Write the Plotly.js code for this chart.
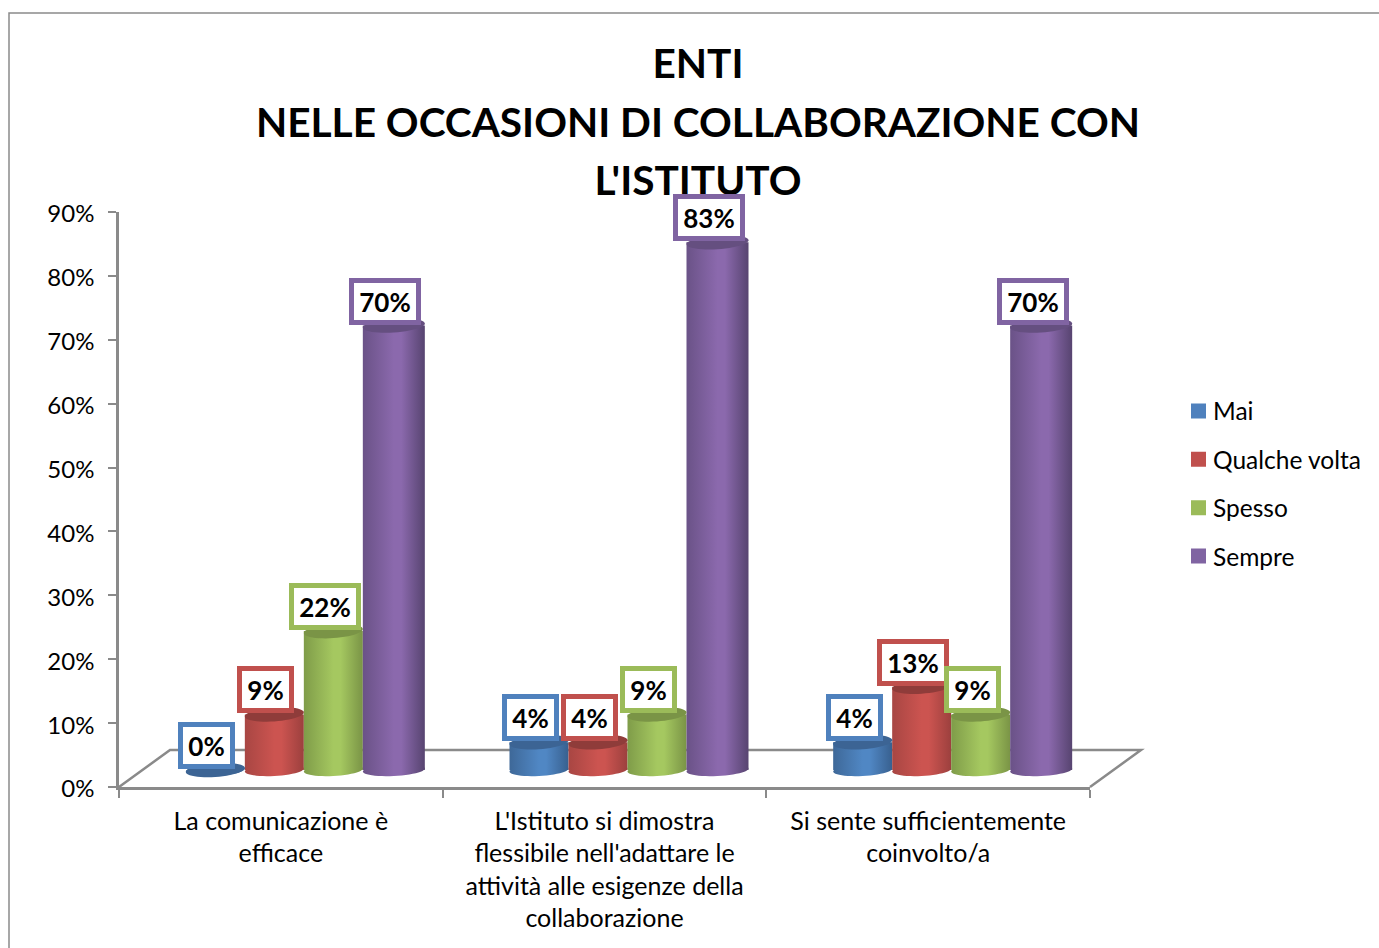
<!DOCTYPE html>
<html><head><meta charset="utf-8">
<script src="https://cdn.plot.ly/plotly-3.0.1.min.js"></script>
<style>html,body{margin:0;padding:0;background:#fff;overflow:hidden}#chart{width:1379px;height:948px}#chart text{font-variant-ligatures:none}</style>
</head><body><div id="chart"></div>
<script>
const categories = ["La comunicazione è<br>efficace","L'Istituto si dimostra<br>flessibile nell'adattare le<br>attività alle esigenze della<br>collaborazione","Si sente sufficientemente<br>coinvolto/a"];
const mai = [0,4.35,4.35];
const qualcheVolta = [8.7,4.35,13.04];
const spesso = [21.74,8.7,8.7];
const sempre = [69.57,82.61,69.57];
const seriesNames = ["Mai","Qualche volta","Spesso","Sempre"];
const seriesColors = ["#4f81bd","#c0504d","#9bbb59","#8064a2"];
const capColors = ["#3c6494","#8f3c3a","#7a9446","#654f80"];
const gradientStops = [["#3e6898","#5087c4","#38608f"],["#a84643","#cc5450","#9c403e"],["#7f9c49","#a5c860","#7a9446"],["#6a5287","#8b69ad","#574470"]];
const titleText = "ENTI<br>NELLE OCCASIONI DI COLLABORAZIONE CON<br>L'ISTITUTO";
const FONT = "Lato, sans-serif";

const L=119,R=1090,T=212,B=787,W=1379,H=948;
const catW=(R-L)/3, pctPx=(B-T)/90, liftPx=17, shiftPx=24.5;
const barLeft=[-119.5,-60.5,-1.5,57.5], barPx=[59,59,59,62];
const all=[mai,qualcheVolta,spesso,sempre];
const px=x=>(x-L)/(R-L), py=y=>(B-y)/(B-T);

const traces=all.map((v,i)=>({type:"bar",name:seriesNames[i],x:[0,1,2],y:v,xaxis:"x2",yaxis:"y2",
  legendgroup:seriesNames[i],width:barPx[i]/catW,offset:barLeft[i]/catW,
  marker:{color:seriesColors[i],line:{width:0}},hoverinfo:"skip"}));
// invisible carrier so the category axis draws its labels
traces.unshift({type:"scatter",mode:"none",x:categories,y:[0,0,0],xaxis:"x",yaxis:"y",showlegend:false,hoverinfo:"skip"});

function ellipsePath(cx,val,wPx,ryPx,tiltPx){
  const rx=wPx/2/catW, ry=ryPx/pctPx, t=tiltPx/pctPx; let s="";
  for(let k=0;k<48;k++){const a=k/48*2*Math.PI, c=Math.cos(a), d=Math.sin(a);
    s+=(k?"L":"M")+(cx+rx*c).toFixed(4)+","+(val+ry*d+t*c).toFixed(4);}
  return s+"Z";
}
const shapes=[], gradientShape={};
shapes.push({type:"path",xref:"paper",yref:"paper",layer:"below",line:{color:"#8a8a8a",width:2.5},
  path:`M${px(L)},${py(B)}L${px(170)},${py(750)}L${px(1141)},${py(750)}L${px(R)},${py(B)}`});
shapes.push({type:"path",xref:"paper",yref:"paper",layer:"below",line:{color:"#8a8a8a",width:1.5},
  path:`M${px(9)},${py(948)}L${px(9)},${py(13)}L${px(1379)},${py(13)}`});
all.forEach((v,i)=>v.forEach((val,g)=>{
  const cx=g+(barLeft[i]+barPx[i]/2)/catW;
  gradientShape[shapes.length]=i;
  shapes.push({type:"path",xref:"x2",yref:"y2",layer:"below",fillcolor:seriesColors[i],line:{width:0},path:ellipsePath(cx,0,barPx[i],6,1.5)});
}));
all.forEach((v,i)=>v.forEach((val,g)=>{
  const cx=g+(barLeft[i]+barPx[i]/2)/catW;
  shapes.push({type:"path",xref:"x2",yref:"y2",layer:"above",fillcolor:capColors[i],line:{width:0},path:ellipsePath(cx,val,barPx[i],7,2)});
}));

const annotations=[];
all.forEach((v,i)=>v.forEach((val,g)=>{
  const txt=Math.round(val)+"%";
  annotations.push({xref:"x2",yref:"y2",x:g+(barLeft[i]+barPx[i]/2)/catW,y:val,xshift:-8.5,yshift:24.5,
    text:"<b>"+txt+"</b>",showarrow:false,xanchor:"center",yanchor:"middle",align:"center",valign:"middle",
    font:{family:FONT,size:26,color:"#000"},bgcolor:"#fff",bordercolor:seriesColors[i],borderwidth:5,borderpad:0,
    width:txt.length>2?62:47,height:37});
}));

const layout={width:W,height:H,margin:{l:L,r:W-R,t:T,b:H-B,pad:0},paper_bgcolor:"#fff",plot_bgcolor:"rgba(0,0,0,0)",
  font:{family:FONT,size:24,color:"#000"},barmode:"overlay",hovermode:false,
  title:{text:"<b>"+titleText+"</b>",x:698/W,xref:"container",xanchor:"center",y:1-38/H,yref:"container",yanchor:"top",font:{family:FONT,size:40.6,color:"#000"}},
  xaxis:{type:"category",categoryorder:"array",categoryarray:categories,range:[-0.5,2.5],tickson:"boundaries",ticks:"outside",ticklen:8,tickwidth:2,tickcolor:"#8a8a8a",
    showline:true,linecolor:"#8a8a8a",linewidth:2.5,showgrid:false,zeroline:false,tickangle:0,ticklabelstandoff:10,tickfont:{family:FONT,size:25,color:"#000"},fixedrange:true},
  xaxis2:{overlaying:"x",range:[-0.5-shiftPx/catW,2.5-shiftPx/catW],visible:false,fixedrange:true},
  yaxis:{range:[0,90],dtick:10,ticksuffix:"%",ticks:"outside",ticklen:8,tickwidth:2,tickcolor:"#8a8a8a",showline:true,linecolor:"#8a8a8a",linewidth:2.5,showgrid:false,zeroline:false,
    ticklabelstandoff:9,ticklabelshift:2,tickfont:{family:FONT,size:24,color:"#000"},fixedrange:true},
  yaxis2:{overlaying:"y",range:[-liftPx/pctPx,90-liftPx/pctPx],visible:false,fixedrange:true},
  legend:{x:px(1173),xanchor:"left",y:py(483.5),yanchor:"middle",tracegroupgap:13.5,font:{family:FONT,size:24.5,color:"#000"},bgcolor:"rgba(0,0,0,0)",itemclick:false,itemdoubleclick:false},
  shapes,annotations,showlegend:true};

const titleBaselines=[78,136.5,195];
Plotly.newPlot("chart",traces,layout,{displayModeBar:false,responsive:false}).then(gd=>{
  const svg=gd.querySelector("svg.main-svg");
  const NS="http://www.w3.org/2000/svg";
  let defs=svg.querySelector("defs");
  gradientStops.forEach((st,i)=>{
    const g=document.createElementNS(NS,"linearGradient");g.setAttribute("id","cyl"+i);
    [[0,st[0]],[0.5,st[1]],[0.62,st[1]],[1,st[2]]].forEach(([o,c])=>{const s=document.createElementNS(NS,"stop");s.setAttribute("offset",o);s.setAttribute("stop-color",c);g.appendChild(s);});
    defs.appendChild(g);
  });
  gd.querySelectorAll(".barlayer .trace.bars").forEach((tr,i)=>{
    tr.querySelectorAll(".point path").forEach(p=>{p.style.fill="url(#cyl"+i+")";});
  });
  gd.querySelectorAll(".shapelayer path[data-index]").forEach(p=>{
    const k=gradientShape[p.getAttribute("data-index")];
    if(k!==undefined)p.style.fill="url(#cyl"+k+")";
  });
  gd.querySelectorAll(".legend .legendpoints path").forEach(p=>{p.setAttribute("transform","translate(25.5,0) scale(1.25)");});
  const tt=gd.querySelector(".gtitle");
  if(tt){tt.removeAttribute("transform");
    tt.querySelectorAll("tspan.line").forEach((s,i)=>{s.setAttribute("y",titleBaselines[i]);s.setAttribute("dy","0");});}
});
</script></body></html>
